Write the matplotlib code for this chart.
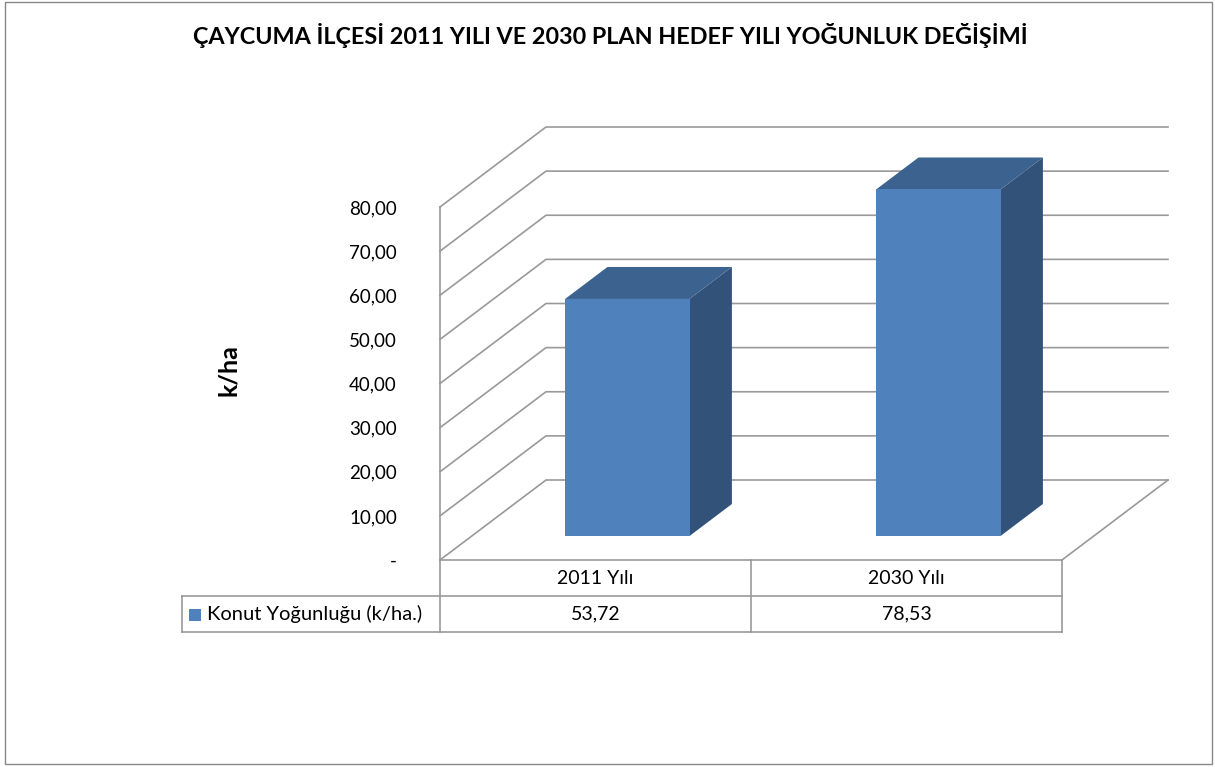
import numpy as np
import matplotlib.pyplot as plt
from matplotlib.patches import Polygon, Rectangle
from matplotlib.transforms import blended_transform_factory

# data
categories = ['2011 Yılı', '2030 Yılı']
values = [53.72, 78.53]
series_name = 'Konut Yoğunluğu (k/ha.)'
yticks = [0, 10, 20, 30, 40, 50, 60, 70, 80]
title = 'ÇAYCUMA İLÇESİ 2011 YILI VE 2030 PLAN HEDEF YILI YOĞUNLUK DEĞİŞİMİ'
ylabel = 'k/ha'

front = '#4F81BD'
top_c = '#3C6290'
side_c = '#32527A'
grid_c = '#999999'
FONT = ['Lato', 'DejaVu Sans']

W, H = 1215, 767
fig = plt.figure(figsize=(W / 100, H / 100), dpi=100)
plt.rcParams['font.family'] = FONT

# outer frame
fig.patches.append(Rectangle((5 / W, 3 / H), 1207 / W, 762 / H, transform=fig.transFigure,
                             fill=False, edgecolor='#888888', lw=1))

ax = fig.add_axes([440 / W, (H - 560) / H, 622 / W, 353 / H])
ax.set_xlim(0, len(categories))
ax.set_ylim(0, 80)
for s in ax.spines.values():
    s.set_visible(False)
ax.set_xticks([])
ax.set_yticks(yticks)
ax.set_yticklabels(['-' if v == 0 else f'{v:.2f}'.replace('.', ',') for v in yticks],
                   fontsize=13.5)
ax.tick_params(axis='y', length=0, pad=31)
ax.set_facecolor('none')

# depth offsets in data units (106 px right, 80 px up for full depth)
p0 = ax.transData.transform((0, 0))
p1 = ax.transData.transform((1, 1))
ddx = 106 / (p1[0] - p0[0])
ddy = 80 / (p1[1] - p0[1])
n = len(categories)

# walls + floor gridlines
for v in yticks:
    xs = [0, ddx, n + ddx]
    ys = [v, v + ddy, v + ddy]
    ax.plot(xs, ys, color=grid_c, lw=1.2, clip_on=False, zorder=1)
ax.plot([0, 0], [0, 80], color=grid_c, lw=1.2, clip_on=False, zorder=1)
ax.plot([n + ddx, n], [ddy, 0], color=grid_c, lw=1.2, clip_on=False, zorder=1)

# 3D bars
bw = 0.4
d0, d1 = 0.3, 0.7
for i, v in enumerate(values):
    x0 = i + (1 - bw) / 2 + d0 * ddx
    y0 = d0 * ddy
    dx = (d1 - d0) * ddx
    dy = (d1 - d0) * ddy
    ax.add_patch(Polygon([(x0 + bw, y0), (x0 + bw + dx, y0 + dy), (x0 + bw + dx, y0 + v + dy),
                          (x0 + bw, y0 + v)], closed=True, facecolor=side_c, edgecolor='none',
                         clip_on=False, zorder=3))
    ax.add_patch(Polygon([(x0, y0 + v), (x0 + dx, y0 + v + dy), (x0 + bw + dx, y0 + v + dy),
                          (x0 + bw, y0 + v)], closed=True, facecolor=top_c, edgecolor='none',
                         clip_on=False, zorder=3))
    ax.add_patch(Rectangle((x0, y0), bw, v, facecolor=front, edgecolor='none',
                           clip_on=False, zorder=4))

# data table below
bt = blended_transform_factory(ax.transData, fig.transFigure)
r0, r1, r2 = (H - 560) / H, (H - 596) / H, (H - 632) / H
lab_x = (182 - 440) / (622 / n)
tc = '#999999'
ax.plot([0, n], [r0, r0], transform=bt, color=tc, lw=1.2, clip_on=False)
ax.plot([lab_x, n], [r1, r1], transform=bt, color=tc, lw=1.2, clip_on=False)
ax.plot([lab_x, n], [r2, r2], transform=bt, color=tc, lw=1.2, clip_on=False)
ax.plot([lab_x, lab_x], [r1, r2], transform=bt, color=tc, lw=1.2, clip_on=False)
for k in range(n + 1):
    ax.plot([k, k], [r0, r2], transform=bt, color=tc, lw=1.2, clip_on=False)
for i, (c, v) in enumerate(zip(categories, values)):
    ax.text(i + 0.5, (r0 + r1) / 2, c, transform=bt, ha='center', va='center', fontsize=14)
    ax.text(i + 0.5, (r1 + r2) / 2, f'{v:.2f}'.replace('.', ','), transform=bt,
            ha='center', va='center', fontsize=14)
fig.patches.append(Rectangle((189 / W, (H - 621) / H), 12 / W, 12 / H, transform=fig.transFigure,
                             facecolor=front, edgecolor='none'))
fig.text(207 / W, (r1 + r2) / 2, series_name, ha='left', va='center', fontsize=14.5)

fig.text(610 / W, (H - 35) / H, title, ha='center', va='center', fontsize=16.8, fontweight='bold')
fig.text(229 / W, (H - 370) / H, ylabel, ha='center', va='center', fontsize=18,
         fontweight='bold', rotation=90)

fig.savefig('out.png', dpi=100)
